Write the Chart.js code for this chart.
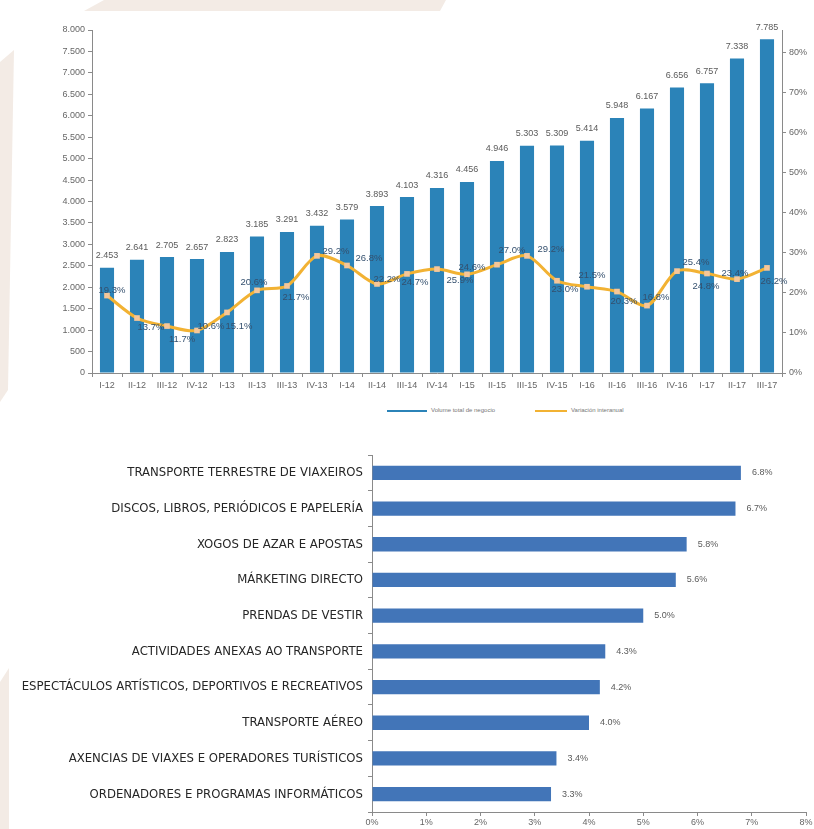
<!DOCTYPE html>
<html lang="gl">
<head>
<meta charset="utf-8">
<title>Volume de negocio e sectores</title>
<script src="https://cdn.jsdelivr.net/npm/chart.js@4.4.1/dist/chart.umd.min.js"></script>
<style>
    html, body { margin: 0; padding: 0; background: #fff; }
    body { width: 814px; height: 829px; position: relative; overflow: hidden; font-family: "Liberation Sans", Arial, sans-serif; }

    /* decorative beige shapes along the page edge */
    .deco { position: absolute; background: #f3ebe5; }
    #decoTop { left: 0; top: 0; width: 814px; height: 12px; clip-path: polygon(84px 11px, 104px 0, 446px 0, 440px 11px); }
    #decoLeft1 { left: 0; top: 0; width: 20px; height: 829px; clip-path: polygon(0 62px, 14px 50px, 8px 390px, 0 402px); }
    #decoLeft2 { left: 0; top: 0; width: 20px; height: 829px; clip-path: polygon(0 682px, 9px 668px, 9px 829px, 0 829px); }

    .box { position: absolute; left: 0; width: 814px; }
    #topBox { top: 0; height: 400px; }
    #bottomBox { top: 440px; height: 389px; }

    #legend { position: absolute; top: 406px; left: 0; width: 814px; height: 10px; font-size: 6px; color: #777; }
    #legend .sw { position: absolute; top: 4px; height: 2px; }
    #legend .lt { position: absolute; top: 1px; white-space: nowrap; }
</style>
</head>
<body>
<div class="deco" id="decoTop"></div>
<div class="deco" id="decoLeft1"></div>
<div class="deco" id="decoLeft2"></div>

<div class="box" id="topBox"><canvas id="volumeChart"></canvas></div>
<div id="legend">
    <span class="sw" style="left:387px;width:40px;background:#2b83b8"></span>
    <span class="lt" style="left:431px">Volume total de negocio</span>
    <span class="sw" style="left:535px;width:32px;background:#f2b233"></span>
    <span class="lt" style="left:571px">Variación interanual</span>
</div>
<div class="box" id="bottomBox"><canvas id="sectorChart"></canvas></div>

<script>
// Quarterly business volume and year-on-year change
const quarters = ['I-12', 'II-12', 'III-12', 'IV-12', 'I-13', 'II-13', 'III-13', 'IV-13',
    'I-14', 'II-14', 'III-14', 'IV-14', 'I-15', 'II-15', 'III-15', 'IV-15',
    'I-16', 'II-16', 'III-16', 'IV-16', 'I-17', 'II-17', 'III-17'];
const businessVolume = [2453, 2641, 2705, 2657, 2823, 3185, 3291, 3432,
    3579, 3893, 4103, 4316, 4456, 4946, 5303, 5309,
    5414, 5948, 6167, 6656, 6757, 7338, 7785];
const yearOnYear = [19.3, 13.7, 11.7, 10.6, 15.1, 20.6, 21.7, 29.2,
    26.8, 22.2, 24.7, 25.9, 24.6, 27.0, 29.2, 23.0,
    21.5, 20.3, 16.8, 25.4, 24.8, 23.4, 26.2];

// Sector shares
const sectors = [
    'TRANSPORTE TERRESTRE DE VIAXEIROS',
    'DISCOS, LIBROS, PERIÓDICOS E PAPELERÍA',
    'XOGOS DE AZAR E APOSTAS',
    'MÁRKETING DIRECTO',
    'PRENDAS DE VESTIR',
    'ACTIVIDADES ANEXAS AO TRANSPORTE',
    'ESPECTÁCULOS ARTÍSTICOS, DEPORTIVOS E RECREATIVOS',
    'TRANSPORTE AÉREO',
    'AXENCIAS DE VIAXES E OPERADORES TURÍSTICOS',
    'ORDENADORES E PROGRAMAS INFORMÁTICOS'
];
const sectorShare = [6.8, 6.7, 5.8, 5.6, 5.0, 4.3, 4.2, 4.0, 3.4, 3.3];

// Axis ranges
const volumeMax = 8000;
const volumeStep = 500;
const changeMax = 85.5;
const changeStep = 10;
const shareMax = 8;

// Where each percentage label sits relative to its point (dx, dy)
const changeLabelOffsets = [
    [5, -5], [14, 9], [15, 13], [14, -4], [12, 14], [-3, -8], [9, 11], [19, -4],
    [22, -7], [10, -5], [8, 8], [23, 11], [5, -7], [15, -14], [24, -6], [8, 9],
    [5, -11], [7, 10], [9, -8], [19, -9], [-1, 13], [-2, -6], [7, 13]
];

function thousands(n) {
    return String(n).replace(/\B(?=(\d{3})+(?!\d))/g, '.');
}

const axisGrey = '#8a8a8a';
const tickFont = { family: 'Liberation Sans', size: 9 };

// Draws the numbers above the bars and next to the line points
const volumeLabels = {
    id: 'volumeLabels',
    afterDatasetsDraw(chart) {
        const ctx = chart.ctx;
        ctx.save();
        ctx.textAlign = 'center';
        ctx.textBaseline = 'middle';
        ctx.font = '9px "Liberation Sans"';
        ctx.fillStyle = '#5a5a5a';
        chart.getDatasetMeta(0).data.forEach((bar, i) => {
            ctx.fillText(thousands(businessVolume[i]), bar.x, bar.y - 12);
        });
        ctx.font = '9.5px "Liberation Sans"';
        ctx.fillStyle = '#34506e';
        chart.getDatasetMeta(1).data.forEach((pt, i) => {
            const off = changeLabelOffsets[i];
            ctx.fillText(yearOnYear[i].toFixed(1) + '%', pt.x + off[0], pt.y + off[1]);
        });
        ctx.restore();
    }
};

function initVolumeChart() {
    const ctx = document.getElementById('volumeChart').getContext('2d');
    new Chart(ctx, {
        type: 'bar',
        data: {
            labels: quarters,
            datasets: [
                {
                    type: 'bar',
                    label: 'Volume total de negocio',
                    data: businessVolume,
                    backgroundColor: '#2b83b8',
                    barPercentage: 0.94,
                    categoryPercentage: 0.5,
                    yAxisID: 'y',
                    order: 2
                },
                {
                    type: 'line',
                    label: 'Variación interanual',
                    data: yearOnYear,
                    borderColor: '#f2b233',
                    borderWidth: 3,
                    tension: 0.3,
                    pointStyle: 'rect',
                    pointRadius: 4,
                    pointBackgroundColor: '#f5c79a',
                    pointBorderWidth: 0,
                    yAxisID: 'y1',
                    order: 1
                }
            ]
        },
        options: {
            responsive: true,
            maintainAspectRatio: false,
            animation: false,
            layout: { padding: { top: 30, left: 0, right: 0, bottom: 0 } },
            scales: {
                x: {
                    grid: { offset: true, drawOnChartArea: false, tickLength: 4, color: axisGrey },
                    border: { color: axisGrey },
                    ticks: { font: tickFont, color: '#666', padding: 3, maxRotation: 0, autoSkip: false },
                    afterFit(scale) { scale.height = 27; }
                },
                y: {
                    position: 'left',
                    min: 0,
                    max: volumeMax,
                    grid: { drawOnChartArea: false, tickLength: 4, color: axisGrey },
                    border: { color: axisGrey },
                    ticks: {
                        stepSize: volumeStep,
                        font: tickFont,
                        color: '#666',
                        padding: 3,
                        callback: value => thousands(value)
                    },
                    afterFit(scale) { scale.width = 92; }
                },
                y1: {
                    position: 'right',
                    min: 0,
                    max: changeMax,
                    grid: { drawOnChartArea: false, tickLength: 4, color: axisGrey },
                    border: { color: axisGrey },
                    ticks: {
                        stepSize: changeStep,
                        includeBounds: false,
                        font: tickFont,
                        color: '#666',
                        padding: 3,
                        callback: value => value + '%'
                    },
                    afterFit(scale) { scale.width = 32; }
                }
            },
            plugins: {
                legend: { display: false },
                tooltip: { enabled: false }
            }
        },
        plugins: [volumeLabels]
    });
}

// Percent labels at the end of each horizontal bar
const shareLabels = {
    id: 'shareLabels',
    afterDatasetsDraw(chart) {
        const ctx = chart.ctx;
        ctx.save();
        ctx.textAlign = 'left';
        ctx.textBaseline = 'middle';
        ctx.font = '9px "Liberation Sans"';
        ctx.fillStyle = '#5a5a5a';
        chart.getDatasetMeta(0).data.forEach((bar, i) => {
            ctx.fillText(sectorShare[i].toFixed(1) + '%', bar.x + 11, bar.y);
        });
        ctx.restore();
    }
};

function initSectorChart() {
    const ctx = document.getElementById('sectorChart').getContext('2d');
    new Chart(ctx, {
        type: 'bar',
        data: {
            labels: sectors,
            datasets: [{
                label: 'Peso do sector',
                data: sectorShare,
                backgroundColor: '#4275b8',
                barPercentage: 0.8,
                categoryPercentage: 0.5
            }]
        },
        options: {
            indexAxis: 'y',
            responsive: true,
            maintainAspectRatio: false,
            animation: false,
            layout: { padding: { top: 15, left: 0, right: 8, bottom: 0 } },
            scales: {
                x: {
                    min: 0,
                    max: shareMax,
                    grid: { drawOnChartArea: false, tickLength: 4, color: axisGrey },
                    border: { color: axisGrey },
                    ticks: {
                        stepSize: 1,
                        font: tickFont,
                        color: '#666',
                        padding: 1,
                        callback: value => value + '%'
                    },
                    afterFit(scale) { scale.height = 17; }
                },
                y: {
                    grid: { offset: true, drawOnChartArea: false, tickLength: 4, color: axisGrey },
                    border: { color: axisGrey },
                    ticks: {
                        font: { family: '"Liberation Sans Narrow", "DejaVu Sans Condensed", sans-serif', size: 13 },
                        color: '#262626',
                        padding: 5,
                        autoSkip: false
                    },
                    afterFit(scale) { scale.width = 372; }
                }
            },
            plugins: {
                legend: { display: false },
                tooltip: { enabled: false }
            }
        },
        plugins: [shareLabels]
    });
}

document.addEventListener('DOMContentLoaded', function() {
    initVolumeChart();
    initSectorChart();
});
</script>
</body>
</html>
